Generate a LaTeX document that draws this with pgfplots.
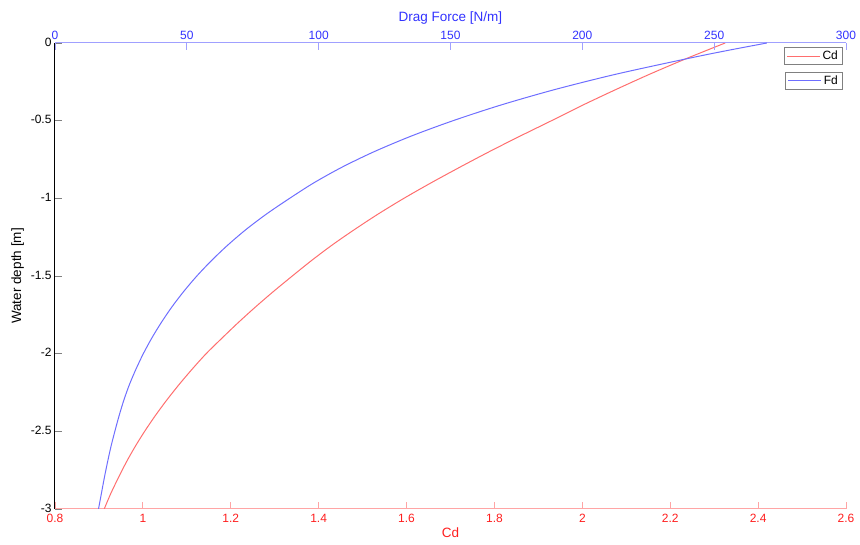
\documentclass[border=0pt]{standalone}
\usepackage{pgfplots}
\pgfplotsset{compat=1.18}
\usepackage{fontspec}
\setmainfont{Liberation Sans}
\definecolor{cdline}{RGB}{255,110,110}
\definecolor{fdline}{RGB}{110,110,255}
\definecolor{cdtext}{RGB}{255,30,30}
\definecolor{fdtext}{RGB}{50,50,255}
\definecolor{cdaxis}{RGB}{255,165,165}
\definecolor{fdaxis}{RGB}{160,160,255}
\begin{document}
\begin{tikzpicture}[font=\fontsize{12}{14}\selectfont]
\useasboundingbox (-55pt,-36pt) rectangle (805pt,509pt);
\begin{axis}[
  width=791pt, height=466pt, scale only axis,
  xmin=0.8, xmax=2.6, ymin=-3, ymax=0,
  axis x line*=bottom, axis y line*=left,
  x axis line style={cdaxis, line width=1pt, -},
  y axis line style={black, line width=1pt, -},
  xtick={0.8,1,1.2,1.4,1.6,1.8,2,2.2,2.4,2.6},
  ytick={-3,-2.5,-2,-1.5,-1,-0.5,0},
  tick align=inside,
  major tick length=7pt,
  x tick style={cdaxis, line width=0.8pt},
  y tick style={gray, line width=0.8pt},
  x tick label style={text=cdtext, yshift=-2pt},
  y tick label style={yshift=1pt},
  xlabel={Cd}, xlabel style={text=cdtext, font=\fontsize{13.5}{15}\selectfont, yshift=2pt},
  ylabel={Water depth [m]}, ylabel style={font=\fontsize{13.5}{15}\selectfont},
  /pgf/number format/assume math mode=true,
  legend style={at={(rel axis cs:0.996,0.991)}, anchor=north east,
    draw=gray, line width=1pt, fill=white, inner xsep=2.5pt, inner ysep=1.5pt},
  legend image code/.code={\path (0pt,0pt) -- (33pt,0pt); \draw[cdline, line width=1pt] (4pt,0pt) -- (32pt,0pt);},
]
\addplot[cdline, line width=1pt, smooth] coordinates {
 (2.325,0) (2.237,-0.1) (2.154,-0.2) (2.076,-0.3) (2.001,-0.4) (1.930,-0.5)
 (1.858,-0.6) (1.788,-0.7) (1.721,-0.8) (1.656,-0.9) (1.594,-1.0)
 (1.536,-1.1) (1.482,-1.2) (1.431,-1.3) (1.384,-1.4) (1.340,-1.5)
 (1.297,-1.6) (1.256,-1.7) (1.217,-1.8) (1.180,-1.9) (1.144,-2.0)
 (1.112,-2.1) (1.082,-2.2) (1.054,-2.3) (1.028,-2.4) (1.004,-2.5)
 (0.982,-2.6) (0.962,-2.7) (0.944,-2.8) (0.927,-2.9) (0.912,-3.0)
};
\addlegendentry{Cd}
\end{axis}
\begin{axis}[
  width=791pt, height=466pt, scale only axis,
  xmin=0, xmax=300, ymin=-3, ymax=0,
  axis x line*=top, axis y line=none,
  x axis line style={fdaxis, line width=1pt, -},
  xtick={0,50,100,150,200,250,300},
  tick align=inside,
  major tick length=7pt,
  x tick style={fdaxis, line width=0.8pt},
  x tick label style={text=fdtext},
  xlabel={Drag Force [N/m]}, xlabel style={text=fdtext, font=\fontsize{13.5}{15}\selectfont},
  /pgf/number format/assume math mode=true,
  legend style={at={(rel axis cs:0.996,0.938)}, anchor=north east,
    draw=gray, line width=1pt, fill=white, inner xsep=2.5pt, inner ysep=1.5pt},
  legend image code/.code={\path (0pt,0pt) -- (33pt,0pt); \draw[fdline, line width=1pt] (4pt,0pt) -- (32pt,0pt);},
]
\addplot[fdline, line width=1pt, smooth] coordinates {
 (270,0) (254.5,-0.05) (240,-0.1) (213,-0.2) (189.5,-0.3) (169,-0.4)
 (151,-0.5) (135,-0.6) (121,-0.7) (108.8,-0.8) (98.2,-0.9) (89,-1.0)
 (80.3,-1.1) (72.5,-1.2) (65.6,-1.3) (59.4,-1.4) (53.8,-1.5) (48.8,-1.6)
 (44.3,-1.7) (40.3,-1.8) (36.7,-1.9) (33.5,-2.0) (30.7,-2.1) (28.2,-2.2)
 (26.1,-2.3) (24.3,-2.4) (22.7,-2.5) (21.2,-2.6) (19.9,-2.7) (18.7,-2.8)
 (17.6,-2.9) (16.5,-3.0)
};
\addlegendentry{Fd}
\end{axis}
\end{tikzpicture}
\end{document}
